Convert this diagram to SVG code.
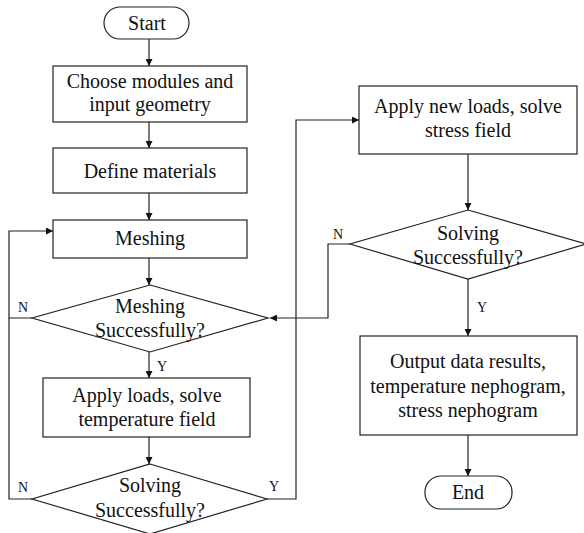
<svg xmlns="http://www.w3.org/2000/svg" width="584" height="533" viewBox="0 0 584 533">
<style>
.s{fill:#fff;stroke:#222;stroke-width:1.2}
.t{font-family:'Liberation Serif',Tinos,'Times New Roman','DejaVu Serif','Noto Serif',serif;font-size:20px;fill:#111;text-anchor:middle}
.l{font-family:'Liberation Serif',Tinos,'Times New Roman','DejaVu Serif','Noto Serif',serif;font-size:14px;fill:#111;text-anchor:middle}
.c{fill:none;stroke:#222;stroke-width:1.2}
</style>
<defs>
<marker id="a" viewBox="0 0 10 10" refX="10" refY="5" markerWidth="7" markerHeight="7" markerUnits="userSpaceOnUse" orient="auto">
<path d="M0,0 L10,5 L0,10 Z" fill="#111"/>
</marker>
</defs>
<g id="connectors">
<path class="c" d="M149,39 V66" marker-end="url(#a)"/>
<path class="c" d="M149,122 V148" marker-end="url(#a)"/>
<path class="c" d="M149,193 V220" marker-end="url(#a)"/>
<path class="c" d="M149,258 V285" marker-end="url(#a)"/>
<path class="c" d="M149,352 V378" marker-end="url(#a)"/>
<path class="c" d="M149,437 V464" marker-end="url(#a)"/>
<path class="c" d="M32,318 H9 V231 H53" marker-end="url(#a)"/>
<path class="c" d="M32,499 H9 V318"/>
<path class="c" d="M267,499 H296 V120 H359" marker-end="url(#a)"/>
<path class="c" d="M468,154 V210" marker-end="url(#a)"/>
<path class="c" d="M350,244 H328 V318 H270" marker-end="url(#a)"/>
<path class="c" d="M468,279 V336" marker-end="url(#a)"/>
<path class="c" d="M468,435 V476" marker-end="url(#a)"/>
<text class="l" x="23" y="312">N</text>
<text class="l" x="162" y="371">Y</text>
<text class="l" x="23" y="492">N</text>
<text class="l" x="274" y="491">Y</text>
<text class="l" x="338" y="239">N</text>
<text class="l" x="482" y="312">Y</text>
</g>
<g id="start">
<rect class="s" x="104" y="7" width="85" height="32" rx="16"/>
<text class="t" x="147" y="30">Start</text>
</g>
<g id="choose">
<rect class="s" x="53" y="66" width="194" height="56"/>
<text class="t" x="150" y="88">Choose modules and</text>
<text class="t" x="150" y="111">input geometry</text>
</g>
<g id="materials">
<rect class="s" x="53" y="148" width="194" height="45"/>
<text class="t" x="150" y="178">Define materials</text>
</g>
<g id="meshing">
<rect class="s" x="53" y="220" width="194" height="38"/>
<text class="t" x="150" y="245">Meshing</text>
</g>
<g id="meshok">
<polygon class="s" points="150,285 268,318 150,352 32,318"/>
<text class="t" x="150" y="313">Meshing</text>
<text class="t" x="150" y="337">Successfully?</text>
</g>
<g id="temp">
<rect class="s" x="43" y="378" width="207" height="59"/>
<text class="t" x="147" y="402">Apply loads, solve</text>
<text class="t" x="147" y="426">temperature field</text>
</g>
<g id="solve1">
<polygon class="s" points="150,464 267,499 150,534 32,499"/>
<text class="t" x="150" y="492">Solving</text>
<text class="t" x="150" y="517">Successfully?</text>
</g>
<g id="stress">
<rect class="s" x="359" y="86" width="218" height="68"/>
<text class="t" x="468" y="113">Apply new loads, solve</text>
<text class="t" x="468" y="137">stress field</text>
</g>
<g id="solve2">
<polygon class="s" points="468,210 586,244 468,279 350,244"/>
<text class="t" x="468" y="240">Solving</text>
<text class="t" x="468" y="264">Successfully?</text>
</g>
<g id="output">
<rect class="s" x="360" y="336" width="217" height="99"/>
<text class="t" x="468" y="368">Output data results,</text>
<text class="t" x="468" y="393">temperature nephogram,</text>
<text class="t" x="468" y="417">stress nephogram</text>
</g>
<g id="end">
<rect class="s" x="425" y="476" width="87" height="33" rx="16"/>
<text class="t" x="468" y="499">End</text>
</g>
</svg>
